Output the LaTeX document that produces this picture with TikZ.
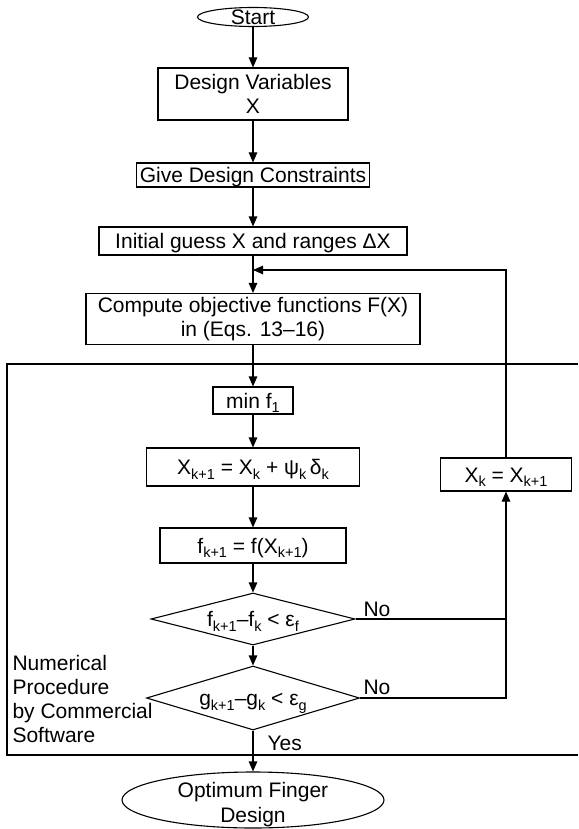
\documentclass[tikz,border=0pt]{standalone}
\usepackage{fontspec}
\setmainfont{Liberation Sans}
\usetikzlibrary{shapes.geometric,arrows.meta}
\newcommand\sbs[1]{\raisebox{-4.5pt}{\fontsize{14.5}{14.5}\selectfont #1}}
\begin{document}
\begin{tikzpicture}[x=1pt,y=-1pt,line width=1.1pt,
  every node/.style={font=\fontsize{21}{23.5}\selectfont, inner sep=0pt},
  box/.style={draw, rectangle, text height=15pt, text depth=0pt},
  mbox/.style={draw, rectangle, align=center},
  lbl/.style={text height=15pt, text depth=0pt},
  arr/.style={-{Triangle[length=10pt,width=8.5pt]}}]
\fill[white] (0,0) rectangle (578,829);
\useasboundingbox (0,0) rectangle (578,829);

% main column
\node[draw, ellipse, minimum width=111pt, minimum height=19pt] (start) at (253,17) {};
\node[lbl] (startlbl) at (start.center) {Start};
\node[mbox, minimum width=190pt, minimum height=52pt] (dv) at (253,94) {Design Variables\\X};
\node[box, minimum width=233pt, minimum height=24pt] (gdc) at (253,175) {Give Design Constraints};
\node[box, minimum width=308pt, minimum height=28pt] (ig) at (253,241) {Initial guess X and ranges ΔX};
\node[mbox, minimum width=334pt, minimum height=51pt] (comp) at (253,319) {Compute objective functions F(X)\\in (Eqs. 13–16)};

% enclosing frame (open to the right)
\draw (578,364) -- (7,364) -- (7,755) -- (578,755);

\node[box, minimum width=80pt, minimum height=27pt] (minf) at (253,400.5) {min f\sbs{1}};
\node[box, minimum width=213pt, minimum height=38pt] (xk1) at (253,467) {X\sbs{k+1} = X\sbs{k} + ψ\sbs{k}\,δ\sbs{k}};
\node[box, minimum width=186pt, minimum height=35pt] (fk1) at (253,545.5) {f\sbs{k+1} = f(X\sbs{k+1})};
\node[box, minimum width=131pt, minimum height=33pt] (xk) at (506,474.5) {X\sbs{k} = X\sbs{k+1}};

\node[draw, diamond, minimum width=204pt, minimum height=52pt] (d1) at (253,619) {};
\node[lbl] (d1lbl) at (d1.center) {f\sbs{k+1}–f\sbs{k} < ε\sbs{f}};
\node[draw, diamond, minimum width=213pt, minimum height=64pt] (d2) at (253,698) {};
\node[lbl] (d2lbl) at (d2.center) {g\sbs{k+1}–g\sbs{k} < ε\sbs{g}};

\node[draw, ellipse, minimum width=262pt, minimum height=56pt] (opt) at (253,800) {};
\node[align=center, font=\fontsize{21}{25}\selectfont] (optlbl) at (253,804.5) {Optimum Finger\\Design};

% labels
\node[anchor=base west] (no1) at (363,616) {No};
\node[anchor=base west] (no2) at (363,694) {No};
\node[anchor=base west] (yes) at (267,750) {Yes};
\node[anchor=north west, align=left, font=\fontsize{21}{24}\selectfont] (np) at (12,655) {Numerical\\Procedure\\by Commercial\\Software};

% connectors
\draw[arr] (start) -- (dv);
\draw[arr] (dv) -- (gdc);
\draw[arr] (gdc) -- (ig);
\draw[arr] (ig) -- (comp);
\draw[arr] (comp) -- (minf);
\draw[arr] (minf) -- (xk1);
\draw[arr] (xk1) -- (fk1);
\draw[arr] (fk1) -- (d1);
\draw[arr] (d1) -- (d2);
\draw[arr] (d2) -- (opt);
\draw (d1.east) -- (d1.east -| xk.south);
\draw[arr] (d2.east) -| (xk.south);
\coordinate (fb) at (253,270);
\draw[arr] (xk.north) |- (fb);
\end{tikzpicture}
\end{document}
